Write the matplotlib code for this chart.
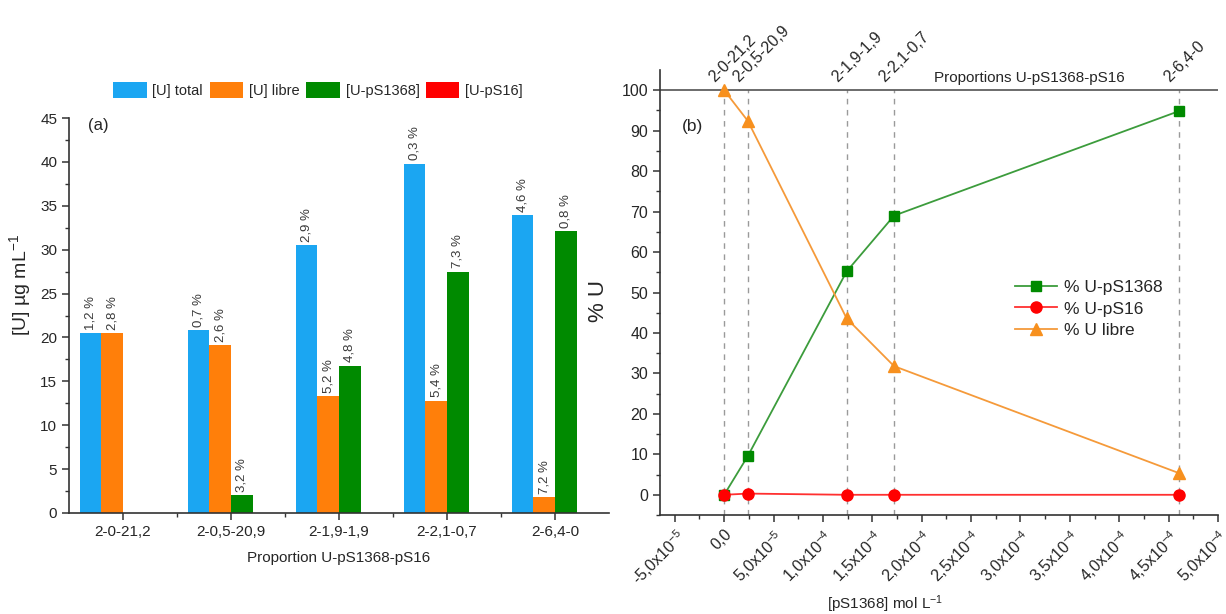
import matplotlib
matplotlib.use("Agg")
import matplotlib.pyplot as plt
import numpy as np
from matplotlib.ticker import FuncFormatter, MultipleLocator

plt.rcParams['font.family'] = ['Liberation Sans', 'DejaVu Sans']
plt.rcParams['mathtext.fontset'] = 'custom'
plt.rcParams['mathtext.rm'] = 'Liberation Sans'
plt.rcParams['mathtext.it'] = 'Liberation Sans:italic'
plt.rcParams['mathtext.bf'] = 'Liberation Sans:bold'

# ---------------- data: panel (a) ----------------
categories = ["2-0-21,2", "2-0,5-20,9", "2-1,9-1,9", "2-2,1-0,7", "2-6,4-0"]
u_total = [20.5, 20.8, 30.5, 39.8, 33.9]
u_libre = [20.45, 19.1, 13.3, 12.8, 1.8]
u_ps1368 = [0.0, 2.0, 16.8, 27.5, 32.1]
u_ps16 = [0.0, 0.0, 0.0, 0.0, 0.0]
lbl_total = ["1,2 %", "0,7 %", "2,9 %", "0,3 %", "4,6 %"]
lbl_libre = ["2,8 %", "2,6 %", "5,2 %", "5,4 %", "7,2 %"]
lbl_ps1368 = ["", "3,2 %", "4,8 %", "7,3 %", "0,8 %"]
series_names = ["[U] total", "[U] libre", "[U-pS1368]", "[U-pS16]"]

# ---------------- data: panel (b) ----------------
ps1368_conc = [0.0, 2.4e-5, 1.24e-4, 1.72e-4, 4.6e-4]
pct_ups1368 = [0.0, 9.6, 55.2, 69.0, 94.8]
pct_ups16 = [0.0, 0.3, 0.0, 0.0, 0.0]
pct_ulibre = [100.0, 92.4, 43.6, 31.8, 5.4]
top_labels = ["2-0-21,2", "2-0,5-20,9", "2-1,9-1,9", "2-2,1-0,7", "2-6,4-0"]

TXT = '#262626'
C_BLUE = '#1BA6F2'
C_ORANGE = '#FF7F0A'
C_GREEN = '#008A00'
C_RED = '#FF0000'

fig = plt.figure(figsize=(12.26, 6.14), dpi=100)
ax1 = fig.add_axes([0.0563, 0.1645, 0.4405, 0.6433])
ax2 = fig.add_axes([0.5383, 0.1612, 0.4552, 0.7248])

# ---------------- panel (a) ----------------
x = np.arange(len(categories))
w = 0.2
series = [u_total, u_libre, u_ps1368, u_ps16]
labels = [lbl_total, lbl_libre, lbl_ps1368, None]
colors = [C_BLUE, C_ORANGE, C_GREEN, C_RED]
offsets = [-0.3, -0.1, 0.1, 0.3]
for vals, lbls, col, off, name in zip(series, labels, colors, offsets, series_names):
    bars = ax1.bar(x + off, vals, width=w, color=col, label=name, linewidth=0)
    if lbls is not None:
        for b, t in zip(bars, lbls):
            if t:
                ax1.annotate(t, xy=(b.get_x() + b.get_width() / 2, b.get_height()),
                             xytext=(0, 2.5), textcoords='offset points',
                             rotation=90, ha='center', va='bottom',
                             fontsize=9.5, color='#3a3a3a')

ax1.set_xlim(-0.5, 4.5)
ax1.set_ylim(0, 45)
ax1.set_xticks(x)
ax1.set_xticklabels(categories)
ax1.set_xticks([0.5, 1.5, 2.5, 3.5], minor=True)
ax1.yaxis.set_major_locator(MultipleLocator(5))
ax1.yaxis.set_minor_locator(MultipleLocator(2.5))
for s in ['top', 'right']:
    ax1.spines[s].set_visible(False)
for s in ['left', 'bottom']:
    ax1.spines[s].set_color('#333333')
    ax1.spines[s].set_linewidth(1.2)
ax1.tick_params(which='major', direction='out', length=5, width=1.1, colors='#333333',
                labelsize=11, labelcolor=TXT)
ax1.tick_params(which='minor', direction='out', length=3, width=1.0, colors='#333333')
ax1.set_xlabel("Proportion U-pS1368-pS16", fontsize=11, color=TXT)
ax1.xaxis.set_label_coords(0.5, -0.095)
ax1.set_ylabel("[U] µg mL$^{-1}$", fontsize=14, color=TXT)
ax1.yaxis.set_label_coords(-0.066, 0.577)
ax1.text(0.035, 0.982, "(a)", transform=ax1.transAxes, fontsize=12, color=TXT,
         ha='left', va='center')
ax1.legend(loc='center', bbox_to_anchor=(0.461, 1.071), ncol=4, frameon=False,
           fontsize=10.5, handlelength=2.3, handleheight=1.25, handletextpad=0.4,
           columnspacing=0.45, borderaxespad=0, labelcolor=TXT)

# ---------------- panel (b) ----------------
ax2.set_xlim(-6.5e-5, 5.0e-4)
ax2.set_ylim(-5, 105)
for xv in ps1368_conc:
    ax2.plot([xv, xv], [-5, 100], linestyle=(0, (4, 4)), color='#9a9a9a', lw=1.0, zorder=1)
ax2.axhline(100, color='#444444', lw=1.1, zorder=1)

ax2.plot(ps1368_conc, pct_ups1368, color='#3c9c3c', lw=1.3, marker='s', markersize=7,
         markerfacecolor=C_GREEN, markeredgecolor=C_GREEN, label='% U-pS1368', zorder=3)
ax2.plot(ps1368_conc, pct_ups16, color='#ff3030', lw=1.3, marker='o', markersize=8,
         markerfacecolor=C_RED, markeredgecolor=C_RED, label='% U-pS16', zorder=4)
ax2.plot(ps1368_conc, pct_ulibre, color='#f59a3a', lw=1.3, marker='^', markersize=8.5,
         markerfacecolor='#F7901E', markeredgecolor='#F7901E', label='% U libre', zorder=3)

for xv, t in zip(ps1368_conc, top_labels):
    ax2.annotate(t, xy=(xv, 100), xytext=(-5, 4), textcoords='offset points',
                 rotation=45, rotation_mode='anchor', ha='left', va='bottom',
                 fontsize=11.5, color=TXT)
ax2.text(3.09e-4, 101.2, "Proportions U-pS1368-pS16", ha='center', va='bottom',
         fontsize=11, color=TXT)
ax2.text(-4.3e-5, 91, "(b)", ha='left', va='center', fontsize=12.5, color=TXT)

def sci_fmt(v, pos):
    if abs(v) < 1e-12:
        return "0,0"
    exp = int(np.floor(np.log10(abs(v)) + 1e-9))
    mant = v / 10 ** exp
    return ("%.1f" % mant).replace('.', ',') + "x10$^{%d}$" % exp

ax2.set_xticks(np.arange(-5e-5, 5.01e-4, 5e-5))
ax2.xaxis.set_major_formatter(FuncFormatter(sci_fmt))
ax2.set_xticks(np.arange(-2.5e-5, 5.0e-4, 5e-5), minor=True)
ax2.set_yticks(np.arange(0, 101, 10))
ax2.set_yticks(np.arange(-5, 105, 10), minor=True)
for lab in ax2.get_xticklabels():
    lab.set_rotation(45)
    lab.set_ha('right')
    lab.set_va('top')
    lab.set_rotation_mode('anchor')
for s in ['top', 'right']:
    ax2.spines[s].set_visible(False)
for s in ['left', 'bottom']:
    ax2.spines[s].set_color('#333333')
    ax2.spines[s].set_linewidth(1.2)
ax2.tick_params(which='major', direction='out', length=5, width=1.1, colors='#333333',
                labelsize=11.5, labelcolor=TXT)
ax2.tick_params(which='minor', direction='out', length=3, width=1.0, colors='#333333')
ax2.set_xlabel("[pS1368] mol L$^{-1}$", fontsize=11, color=TXT)
ax2.xaxis.set_label_coords(0.403, -0.176)
ax2.set_ylabel("% U", fontsize=16, color=TXT)
ax2.yaxis.set_label_coords(-0.092, 0.48)
ax2.legend(loc='center left', bbox_to_anchor=(0.636, 0.463), frameon=False,
           fontsize=12.5, handlelength=2.4, handletextpad=0.4, labelspacing=0.35,
           borderpad=0, borderaxespad=0, labelcolor=TXT)

fig.savefig("out.png", dpi=100)
